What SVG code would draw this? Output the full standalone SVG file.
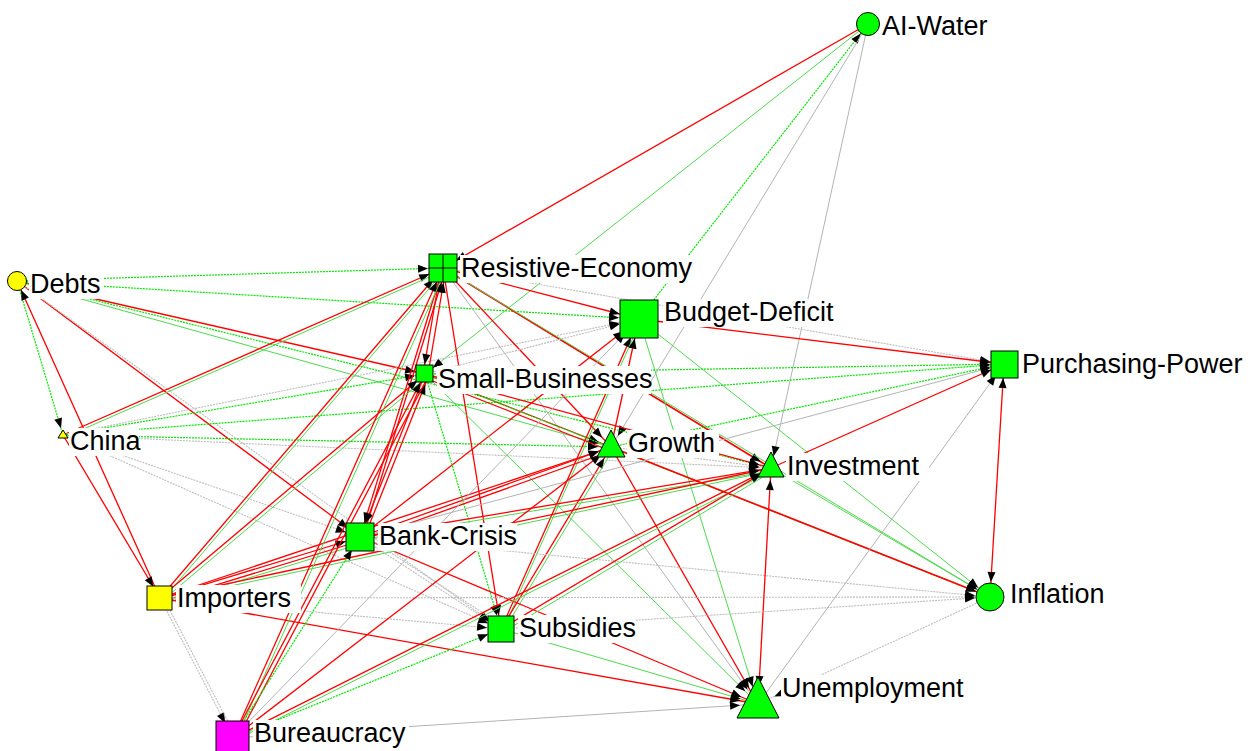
<svg xmlns="http://www.w3.org/2000/svg" width="1248" height="751" viewBox="0 0 1248 751">
<style>
line{fill:none}
.r{stroke:#ff0000;stroke-width:1.3}
.g{stroke:#00e600;stroke-width:1.2;stroke-dasharray:2 1}
.gs{stroke:#4fd84f;stroke-width:1}
.k{stroke:#bdbdbd;stroke-width:1.1;stroke-dasharray:2 1}
.ks{stroke:#b3b3b3;stroke-width:1}
.n{fill:#00ff00;stroke:#000;stroke-width:1}
.y{fill:#ffff00;stroke:#000;stroke-width:1}
.bg{fill:#fff}
.lbl{font-family:"Liberation Sans",Arial,sans-serif;font-size:27px;fill:#000}
</style>
<defs>
<marker id="m7" markerUnits="userSpaceOnUse" markerWidth="10" markerHeight="8" refX="17" refY="4" orient="auto" overflow="visible"><path d="M0,0L10,4L0,8z"/></marker>
<marker id="m10" markerUnits="userSpaceOnUse" markerWidth="10" markerHeight="8" refX="20" refY="4" orient="auto" overflow="visible"><path d="M0,0L10,4L0,8z"/></marker>
<marker id="m12" markerUnits="userSpaceOnUse" markerWidth="10" markerHeight="8" refX="22" refY="4" orient="auto" overflow="visible"><path d="M0,0L10,4L0,8z"/></marker>
<marker id="m13" markerUnits="userSpaceOnUse" markerWidth="10" markerHeight="8" refX="23" refY="4" orient="auto" overflow="visible"><path d="M0,0L10,4L0,8z"/></marker>
<marker id="m14" markerUnits="userSpaceOnUse" markerWidth="10" markerHeight="8" refX="24" refY="4" orient="auto" overflow="visible"><path d="M0,0L10,4L0,8z"/></marker>
<marker id="m15" markerUnits="userSpaceOnUse" markerWidth="10" markerHeight="8" refX="25" refY="4" orient="auto" overflow="visible"><path d="M0,0L10,4L0,8z"/></marker>
<marker id="m17" markerUnits="userSpaceOnUse" markerWidth="10" markerHeight="8" refX="27" refY="4" orient="auto" overflow="visible"><path d="M0,0L10,4L0,8z"/></marker>
<marker id="m18" markerUnits="userSpaceOnUse" markerWidth="10" markerHeight="8" refX="28" refY="4" orient="auto" overflow="visible"><path d="M0,0L10,4L0,8z"/></marker>
<marker id="m20" markerUnits="userSpaceOnUse" markerWidth="10" markerHeight="8" refX="30" refY="4" orient="auto" overflow="visible"><path d="M0,0L10,4L0,8z"/></marker>
<marker id="s12" markerUnits="userSpaceOnUse" markerWidth="10" markerHeight="8" refX="22" refY="4" orient="auto-start-reverse" overflow="visible"><path d="M0,0L10,4L0,8z"/></marker>
<marker id="s14" markerUnits="userSpaceOnUse" markerWidth="10" markerHeight="8" refX="24" refY="4" orient="auto-start-reverse" overflow="visible"><path d="M0,0L10,4L0,8z"/></marker>
</defs>
<rect width="1248" height="751" fill="#fff"/>
<g id="connectors">
<line class="r" x1="868" y1="24" x2="443" y2="268" marker-end="url(#m15)"/>
<line class="gs" x1="868" y1="24" x2="425" y2="374" marker-end="url(#m10)"/>
<line class="g" x1="639" y1="319" x2="868" y2="24" marker-end="url(#m12)"/>
<line class="ks" x1="868" y1="24" x2="611" y2="447" marker-end="url(#m13)"/>
<line class="ks" x1="868" y1="24" x2="771" y2="468" marker-end="url(#m12)"/>
<line class="g" x1="17" y1="281" x2="443" y2="268" marker-end="url(#m15)"/>
<line class="g" x1="17" y1="281" x2="639" y2="319" marker-end="url(#m20)"/>
<line class="r" x1="17" y1="281" x2="425" y2="374" marker-end="url(#m10)"/>
<line class="gs" x1="17" y1="281" x2="611" y2="447" marker-end="url(#m13)"/>
<line class="g" x1="17" y1="281" x2="771" y2="468" marker-end="url(#m12)"/>
<line class="g" x1="17" y1="281" x2="63" y2="435" marker-end="url(#m7)"/>
<line class="r" x1="17" y1="281" x2="360" y2="537" marker-end="url(#m15)"/>
<line class="k" x1="17" y1="281" x2="501" y2="629" marker-end="url(#m14)"/>
<line class="r" x1="160" y1="598" x2="17" y2="281" marker-end="url(#m10)"/>
<line class="r" x1="63" y1="435" x2="443" y2="268" marker-end="url(#m15)"/>
<line class="gs" x1="63" y1="438" x2="443" y2="271"/>
<line class="k" x1="63" y1="435" x2="639" y2="319" marker-end="url(#m20)"/>
<line class="g" x1="63" y1="435" x2="425" y2="374" marker-end="url(#m10)"/>
<line class="g" x1="63" y1="435" x2="611" y2="447" marker-end="url(#m13)"/>
<line class="k" x1="63" y1="435" x2="771" y2="468" marker-end="url(#m12)"/>
<line class="k" x1="63" y1="435" x2="360" y2="537" marker-end="url(#m15)"/>
<line class="k" x1="63" y1="435" x2="501" y2="629" marker-end="url(#m14)"/>
<line class="r" x1="63" y1="435" x2="160" y2="598" marker-end="url(#m13)"/>
<line class="g" x1="63" y1="435" x2="1004" y2="364" marker-end="url(#m14)"/>
<line class="r" x1="443" y1="268" x2="639" y2="319" marker-end="url(#m20)"/>
<line class="r" x1="441" y1="268" x2="423" y2="374" marker-end="url(#m10)"/>
<line class="r" x1="428" y1="374" x2="446" y2="268" marker-end="url(#m15)"/>
<line class="r" x1="443" y1="268" x2="771" y2="468" marker-end="url(#m12)" style="stroke-width:1.7"/>
<line class="ks" x1="443" y1="268" x2="758" y2="704" marker-end="url(#m18)"/>
<line class="r" x1="443" y1="268" x2="501" y2="629" marker-end="url(#m14)"/>
<line class="k" x1="443" y1="268" x2="1004" y2="364" marker-end="url(#m14)"/>
<line class="gs" x1="443" y1="268" x2="990" y2="597" marker-end="url(#m15)"/>
<line class="r" x1="443" y1="268" x2="360" y2="537" marker-end="url(#m15)"/>
<line class="r" x1="363" y1="537" x2="446" y2="268" marker-end="url(#m15)"/>
<line class="r" x1="443" y1="268" x2="611" y2="447" marker-end="url(#m13)"/>
<line class="r" x1="639" y1="319" x2="1004" y2="364" marker-end="url(#m14)"/>
<line class="gs" x1="639" y1="319" x2="990" y2="597" marker-end="url(#m15)"/>
<line class="gs" x1="639" y1="319" x2="758" y2="704" marker-end="url(#m18)"/>
<line class="r" x1="501" y1="629" x2="639" y2="319" marker-end="url(#m20)"/>
<line class="gs" x1="503" y1="630" x2="641" y2="320"/>
<line class="r" x1="611" y1="447" x2="639" y2="319" marker-end="url(#m20)"/>
<line class="r" x1="360" y1="537" x2="639" y2="319" marker-end="url(#m20)"/>
<line class="k" x1="425" y1="374" x2="639" y2="319" marker-end="url(#m20)"/>
<line class="g" x1="425" y1="374" x2="1004" y2="364" marker-end="url(#m14)"/>
<line class="r" x1="425" y1="374" x2="611" y2="447" marker-end="url(#m13)"/>
<line class="r" x1="425" y1="378" x2="611" y2="451"/>
<line class="r" x1="425" y1="374" x2="771" y2="468" marker-end="url(#m12)"/>
<line class="g" x1="425" y1="374" x2="501" y2="629" marker-end="url(#m14)"/>
<line class="gs" x1="425" y1="374" x2="758" y2="704" marker-end="url(#m18)"/>
<line class="r" x1="425" y1="374" x2="360" y2="537" marker-end="url(#m15)"/>
<line class="r" x1="364" y1="538" x2="429" y2="375" marker-end="url(#m10)"/>
<line class="g" x1="425" y1="374" x2="990" y2="597" marker-end="url(#m15)"/>
<line class="k" x1="611" y1="447" x2="771" y2="468" marker-end="url(#m12)"/>
<line class="r" x1="611" y1="447" x2="990" y2="597" marker-end="url(#m15)" style="stroke-width:1.7"/>
<line class="r" x1="611" y1="447" x2="758" y2="704" marker-end="url(#m18)"/>
<line class="g" x1="611" y1="447" x2="1004" y2="364" marker-end="url(#m14)"/>
<line class="r" x1="501" y1="629" x2="611" y2="447" marker-end="url(#m13)"/>
<line class="gs" x1="504" y1="630" x2="614" y2="448"/>
<line class="r" x1="360" y1="537" x2="611" y2="447" marker-end="url(#m13)"/>
<line class="r" x1="360" y1="541" x2="611" y2="451"/>
<line class="r" x1="360" y1="537" x2="771" y2="468" marker-end="url(#m12)"/>
<line class="gs" x1="360" y1="540" x2="771" y2="471"/>
<line class="ks" x1="360" y1="537" x2="1004" y2="364" marker-end="url(#m14)"/>
<line class="k" x1="360" y1="537" x2="990" y2="597" marker-end="url(#m15)"/>
<line class="r" x1="360" y1="537" x2="758" y2="704" marker-end="url(#m18)"/>
<line class="k" x1="360" y1="537" x2="501" y2="629" marker-end="url(#m14)"/>
<line class="k" x1="362" y1="534" x2="503" y2="626"/>
<line class="r" x1="160" y1="598" x2="443" y2="268" marker-end="url(#m15)"/>
<line class="gs" x1="163" y1="599" x2="446" y2="269"/>
<line class="r" x1="160" y1="598" x2="425" y2="374" marker-end="url(#m10)"/>
<line class="gs" x1="163" y1="600" x2="428" y2="376"/>
<line class="r" x1="160" y1="598" x2="360" y2="537" marker-end="url(#m15)"/>
<line class="r" x1="160" y1="602" x2="360" y2="541"/>
<line class="gs" x1="160" y1="605" x2="360" y2="544"/>
<line class="r" x1="160" y1="598" x2="611" y2="447" marker-end="url(#m13)"/>
<line class="r" x1="160" y1="598" x2="771" y2="468" marker-end="url(#m12)"/>
<line class="gs" x1="160" y1="601" x2="771" y2="471"/>
<line class="k" x1="160" y1="598" x2="501" y2="629" marker-end="url(#m14)"/>
<line class="k" x1="160" y1="598" x2="990" y2="597" marker-end="url(#m15)"/>
<line class="r" x1="160" y1="598" x2="758" y2="704" marker-end="url(#m18)"/>
<line class="k" x1="160" y1="598" x2="233" y2="738" marker-end="url(#m17)"/>
<line class="k" x1="163" y1="597" x2="236" y2="737"/>
<line class="r" x1="233" y1="738" x2="443" y2="268" marker-end="url(#m15)"/>
<line class="gs" x1="236" y1="739" x2="446" y2="269"/>
<line class="r" x1="233" y1="738" x2="425" y2="374" marker-end="url(#m10)"/>
<line class="r" x1="237" y1="739" x2="429" y2="375"/>
<line class="g" x1="233" y1="738" x2="360" y2="537" marker-end="url(#m15)"/>
<line class="r" x1="233" y1="738" x2="611" y2="447" marker-end="url(#m13)"/>
<line class="ks" x1="233" y1="738" x2="639" y2="319" marker-end="url(#m20)"/>
<line class="r" x1="233" y1="738" x2="771" y2="468" marker-end="url(#m12)"/>
<line class="gs" x1="234" y1="741" x2="772" y2="471"/>
<line class="g" x1="233" y1="738" x2="501" y2="629" marker-end="url(#m14)"/>
<line class="ks" x1="233" y1="738" x2="758" y2="704" marker-end="url(#m18)"/>
<line class="r" x1="771" y1="468" x2="1004" y2="364" marker-end="url(#m14)"/>
<line class="r" x1="771" y1="468" x2="758" y2="704" marker-start="url(#s12)" marker-end="url(#m18)"/>
<line class="r" x1="1004" y1="364" x2="990" y2="597" marker-start="url(#s14)" marker-end="url(#m15)"/>
<line class="gs" x1="771" y1="468" x2="990" y2="597" marker-end="url(#m15)"/>
<line class="k" x1="990" y1="597" x2="758" y2="704" marker-end="url(#m18)"/>
<line class="gs" x1="501" y1="629" x2="758" y2="704" marker-end="url(#m18)"/>
<line class="r" x1="501" y1="629" x2="771" y2="468" marker-end="url(#m12)"/>
<line class="gs" x1="503" y1="632" x2="773" y2="471"/>
<line class="k" x1="501" y1="629" x2="990" y2="597" marker-end="url(#m15)"/>
<line class="ks" x1="758" y1="704" x2="1004" y2="364" marker-end="url(#m14)"/>
</g>
<g id="node-ai-water"><circle class="n" cx="868" cy="24" r="11.5"/><rect class="bg" x="881" y="13" width="117" height="28"/><text class="lbl" x="882" y="35">AI-Water</text></g>
<g id="node-debts"><circle class="y" cx="17" cy="281" r="9.5"/><rect class="bg" x="29" y="271" width="74" height="28"/><text class="lbl" x="30" y="293">Debts</text></g>
<g id="node-resistive-economy"><rect class="n" x="429" y="254" width="28" height="28"/><path d="M443,254V282M429,268H457" stroke="#000" stroke-width="1"/><rect class="bg" x="460" y="255" width="232" height="28"/><text class="lbl" x="461" y="277">Resistive-Economy</text></g>
<g id="node-budget-deficit"><rect class="n" x="620" y="300" width="38" height="38"/><rect class="bg" x="663" y="299" width="177" height="28"/><text class="lbl" x="664" y="321">Budget-Deficit</text></g>
<g id="node-small-businesses"><rect class="n" x="416" y="365" width="17" height="17"/><rect class="bg" x="437" y="366" width="214" height="28"/><text class="lbl" x="438" y="388">Small-Businesses</text></g>
<g id="node-purchasing-power"><rect class="n" x="991" y="351" width="27" height="27"/><rect class="bg" x="1021" y="351" width="223" height="28"/><text class="lbl" x="1022" y="373">Purchasing-Power</text></g>
<g id="node-china"><path class="y" d="M63,430L68,438L58,438z"/><rect class="bg" x="69" y="428" width="70" height="28"/><text class="lbl" x="70" y="450">China</text></g>
<g id="node-growth"><path class="n" d="M611,430L625,457L597,457z"/><rect class="bg" x="627" y="430" width="92" height="28"/><text class="lbl" x="628" y="452">Growth</text></g>
<g id="node-investment"><path class="n" d="M771,452L784,477L758,477z"/><rect class="bg" x="786" y="453" width="143" height="28"/><text class="lbl" x="787" y="475">Investment</text></g>
<g id="node-bank-crisis"><rect class="n" x="346" y="523" width="28" height="28"/><rect class="bg" x="378" y="523" width="139" height="28"/><text class="lbl" x="379" y="545">Bank-Crisis</text></g>
<g id="node-importers"><rect class="y" x="147" y="586" width="25" height="24"/><rect class="bg" x="176" y="585" width="125" height="28"/><text class="lbl" x="177" y="607">Importers</text></g>
<g id="node-subsidies"><rect class="n" x="488" y="616" width="26" height="26"/><rect class="bg" x="518" y="615" width="117" height="28"/><text class="lbl" x="519" y="637">Subsidies</text></g>
<g id="node-bureaucracy"><rect x="216" y="721" width="33" height="34" fill="#ff00ff" stroke="#000" stroke-width="1"/><rect class="bg" x="253" y="720" width="156" height="28"/><text class="lbl" x="254" y="742">Bureaucracy</text></g>
<g id="node-unemployment"><path class="n" d="M758,677L779,718L737,718z"/><rect class="bg" x="781" y="675" width="189" height="28"/><text class="lbl" x="782" y="697">Unemployment</text></g>
<g id="node-inflation"><circle class="n" cx="990" cy="597" r="14"/><rect class="bg" x="1009" y="581" width="104" height="28"/><text class="lbl" x="1010" y="603">Inflation</text></g>
</svg>
